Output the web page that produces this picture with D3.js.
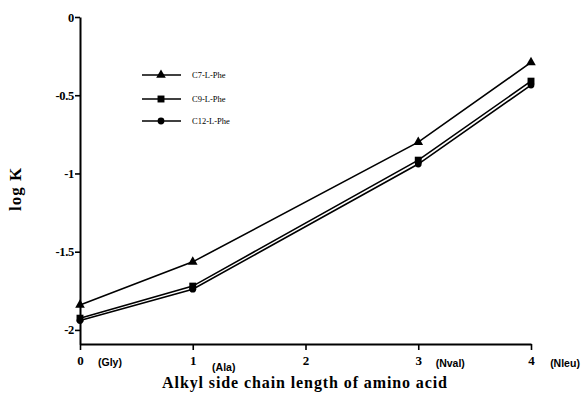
<!DOCTYPE html>
<html><head><meta charset="utf-8">
<script src="https://cdn.jsdelivr.net/npm/d3@7/dist/d3.min.js"></script>
<style>body{margin:0;background:#fff}svg{display:block}</style>
</head><body>
<script>
const xValues = [0, 1, 3, 4];
const c7 = [-1.84, -1.565, -0.80, -0.29];
const c9 = [-1.925, -1.72, -0.915, -0.41];
const c12 = [-1.94, -1.74, -0.94, -0.435];
const seriesNames = ["C7-L-Phe", "C9-L-Phe", "C12-L-Phe"];
const xTicks = [0, 1, 2, 3, 4];
const xTickNames = ["(Gly)", "(Ala)", "", "(Nval)", "(Nleu)"];
const yTicks = [0, -0.5, -1, -1.5, -2];
const yTickLabels = ["0", "-0.5", "-1", "-1.5", "-2"];

const W = 582, H = 394;
const svg = d3.select("body").append("svg").attr("width", W).attr("height", H);
const x = d3.scaleLinear().domain([0, 4]).range([80, 531]);
const y = d3.scaleLinear().domain([0, -2.09]).range([17, 344]);
const serif = "'Liberation Serif', 'Times New Roman', serif";
const sans = "'Liberation Sans', Arial, sans-serif";

// axes
const xAxis = svg.append("g").attr("transform", `translate(0,${y(-2.09)})`)
  .call(d3.axisBottom(x).tickValues(xTicks).tickSize(6).tickSizeOuter(0).tickFormat(d3.format("d")));
xAxis.select(".domain").attr("stroke-width", 2);
xAxis.selectAll(".tick line").attr("stroke-width", 1.6);
xAxis.selectAll(".tick text").attr("font-family", serif).attr("font-weight", "bold").attr("font-size", 13).attr("y", 12).attr("dy", "0.71em");

const yAxis = svg.append("g").attr("transform", `translate(${x(0)},0)`)
  .call(d3.axisLeft(y).tickValues(yTicks).tickSize(5).tickSizeOuter(0).tickFormat((d, i) => yTickLabels[i]));
yAxis.select(".domain").attr("stroke-width", 2);
yAxis.selectAll(".tick line").attr("stroke-width", 1.6);
yAxis.selectAll(".tick text").attr("font-family", serif).attr("font-weight", "bold").attr("font-size", 12.5).attr("x", -6).attr("letter-spacing", -0.3);

// amino acid names
const nameDx = [30, 31, 0, 32, 34];
const nameDy = [366, 371, 0, 367, 367];
svg.append("g").selectAll("text").data(xTicks.filter((d, i) => xTickNames[i])).join("text")
  .attr("x", d => x(d) + nameDx[d]).attr("y", d => nameDy[d])
  .attr("text-anchor", "middle").attr("font-family", sans).attr("font-size", 10.5).attr("font-weight", "bold")
  .text(d => xTickNames[d]);

// titles
svg.append("text").attr("x", 305).attr("y", 388).attr("text-anchor", "middle")
  .attr("font-family", serif).attr("font-weight", "bold").attr("font-size", 16).attr("letter-spacing", 0.9)
  .text("Alkyl side chain length of amino acid");
svg.append("text").attr("transform", "translate(21,189) rotate(-90)").attr("text-anchor", "middle")
  .attr("font-family", serif).attr("font-weight", "bold").attr("font-size", 17).attr("letter-spacing", 1)
  .text("log K");

const series = [c7, c9, c12];
const symbols = [d3.symbolTriangle, d3.symbolSquare, d3.symbolCircle];
const symSizes = [40, 48, 36];
const line = d3.line().x((d, i) => x(xValues[i])).y(d => y(d));

series.forEach((s, k) => {
  svg.append("path").datum(s).attr("d", line).attr("fill", "none")
    .attr("stroke", "#000").attr("stroke-width", 1.6);
  svg.append("g").selectAll("path").data(s).join("path")
    .attr("transform", (d, i) => `translate(${x(xValues[i])},${y(d)})`)
    .attr("d", d3.symbol().type(symbols[k]).size(symSizes[k])).attr("fill", "#000");
});

// legend
const legY = [75, 99, 121];
seriesNames.forEach((n, k) => {
  const g = svg.append("g").attr("transform", `translate(0,${legY[k]})`);
  g.append("line").attr("x1", 142).attr("x2", 181).attr("y1", 0).attr("y2", 0)
    .attr("stroke", "#000").attr("stroke-width", 1.6);
  g.append("path").attr("transform", "translate(161,0)")
    .attr("d", d3.symbol().type(symbols[k]).size(symSizes[k])).attr("fill", "#000");
  g.append("text").attr("x", 192).attr("y", 3).attr("font-family", serif).attr("font-size", 8.5).text(n);
});
</script>
</body></html>
